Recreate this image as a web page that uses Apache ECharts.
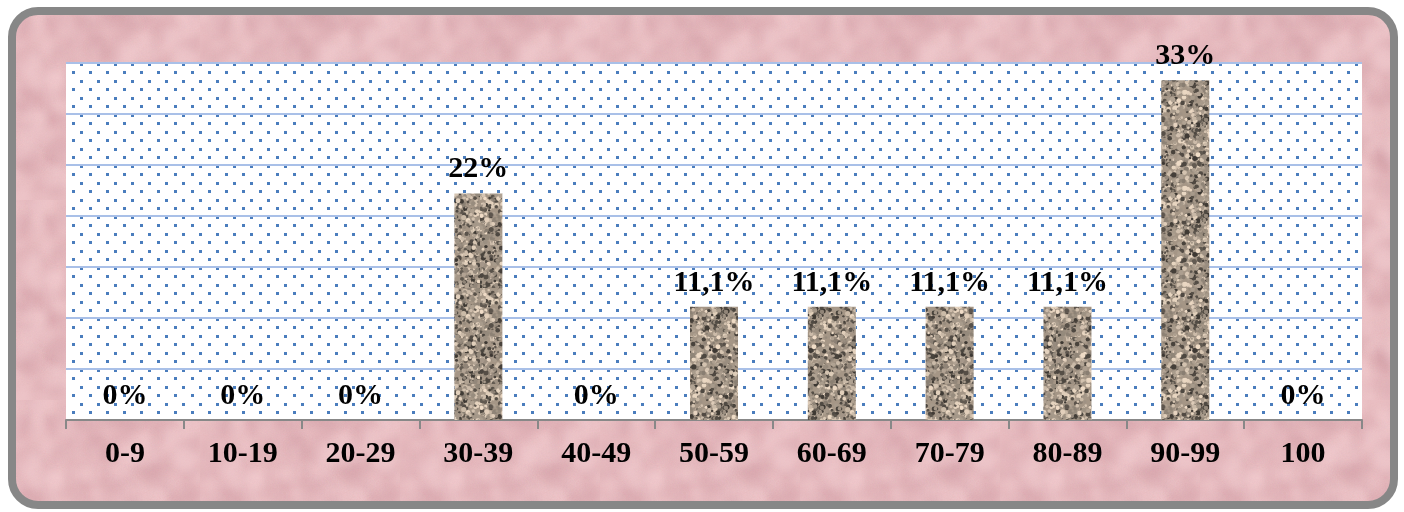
<!DOCTYPE html>
<html>
<head>
<meta charset="utf-8">
<script src="https://cdn.jsdelivr.net/npm/echarts@6/dist/echarts.min.js"></script>
<style>
  html, body { margin: 0; padding: 0; background: #fff; }
  #main { width: 1404px; height: 512px; }
</style>
</head>
<body>
<div id="main"></div>
<script>
// data
const categories = ['0-9', '10-19', '20-29', '30-39', '40-49', '50-59', '60-69', '70-79', '80-89', '90-99', '100']
const values = [0, 0, 0, 22.2, 0, 11.1, 11.1, 11.1, 11.1, 33.3, 0]
const valueLabels = ['0%', '0%', '0%', '22%', '0%', '11,1%', '11,1%', '11,1%', '11,1%', '33%', '0%']

// small deterministic noise, used only for textures
let seed = 12345
const rnd = () => {
  seed = (seed * 1103515245 + 12345) & 0x7fffffff
  return seed / 0x7fffffff
}

// blue dotted plot background
const makeDots = () => {
  const c = document.createElement('canvas')
  c.width = 17
  c.height = 17
  const ctx = c.getContext('2d')
  ctx.fillStyle = '#ffffff'
  ctx.fillRect(0, 0, 17, 17)
  ctx.fillStyle = '#4a7dbd'
  ctx.fillRect(4, 3, 3, 3)
  ctx.fillRect(12, 12, 3, 3)
  return c
}

// granite texture for the bars
const makeGranite = () => {
  const n = 96
  const c = document.createElement('canvas')
  c.width = n
  c.height = n
  const ctx = c.getContext('2d')
  ctx.fillStyle = '#a59686'
  ctx.fillRect(0, 0, n, n)
  for (let i = 0; i < 1400; i++) {
    const t = rnd()
    let v
    if (t < 0.25) v = 60 + rnd() * 40
    else if (t > 0.75) v = 200 + rnd() * 40
    else v = 135 + rnd() * 45
    ctx.fillStyle = 'rgb(' + Math.round(v) + ',' + Math.round(v * 0.92) + ',' + Math.round(v * 0.83) + ')'
    ctx.beginPath()
    ctx.arc(rnd() * n, rnd() * n, 1 + rnd() * 1.6, 0, Math.PI * 2)
    ctx.fill()
  }
  return c
}

// pink marble for the chart area
const makePink = () => {
  const n = 200
  const c = document.createElement('canvas')
  c.width = n
  c.height = n
  const ctx = c.getContext('2d')
  ctx.fillStyle = '#e9bec2'
  ctx.fillRect(0, 0, n, n)
  ctx.filter = 'blur(4px)'
  for (let i = 0; i < 500; i++) {
    const x = rnd() * n, y = rnd() * n, r = 3 + rnd() * 9
    ctx.fillStyle = rnd() < 0.5 ? 'rgba(212,160,166,0.25)' : 'rgba(246,210,212,0.3)'
    ctx.beginPath()
    ctx.arc(x, y, r, 0, Math.PI * 2)
    ctx.fill()
  }
  return c
}

const labelFont = {
  color: '#000',
  fontFamily: 'Liberation Serif',
  fontWeight: 'bold',
  fontSize: 30
}

const myChart = echarts.init(document.getElementById('main'))
const option = {
  animation: false,
  backgroundColor: '#ffffff',
  graphic: [
    {
      type: 'rect',
      z: -10,
      silent: true,
      shape: { x: 12, y: 11, width: 1382, height: 494, r: 26 },
      style: {
        fill: { image: makePink(), repeat: 'repeat' },
        stroke: '#878787',
        lineWidth: 8
      }
    }
  ],
  grid: {
    left: 66,
    right: 42,
    top: 63,
    bottom: 92,
    show: true,
    borderWidth: 0,
    backgroundColor: { image: makeDots(), repeat: 'repeat' }
  },
  xAxis: {
    type: 'category',
    data: categories,
    axisLine: { lineStyle: { color: '#888888', width: 2 } },
    axisTick: { show: true, length: 9, lineStyle: { color: '#888888', width: 2 } },
    axisLabel: Object.assign({ margin: 19 }, labelFont)
  },
  yAxis: {
    type: 'value',
    min: 0,
    max: 35,
    interval: 5,
    axisLabel: { show: false },
    axisLine: { show: false },
    axisTick: { show: false },
    splitLine: { lineStyle: { color: '#a9c0e8', width: 2 } }
  },
  series: [
    {
      type: 'bar',
      data: values,
      barWidth: 48,
      itemStyle: { color: { image: makeGranite(), repeat: 'repeat' } },
      label: Object.assign({
        show: true,
        position: 'top',
        distance: 9,
        formatter: p => valueLabels[p.dataIndex]
      }, labelFont)
    }
  ]
}
option && myChart.setOption(option)
</script>
</body>
</html>
